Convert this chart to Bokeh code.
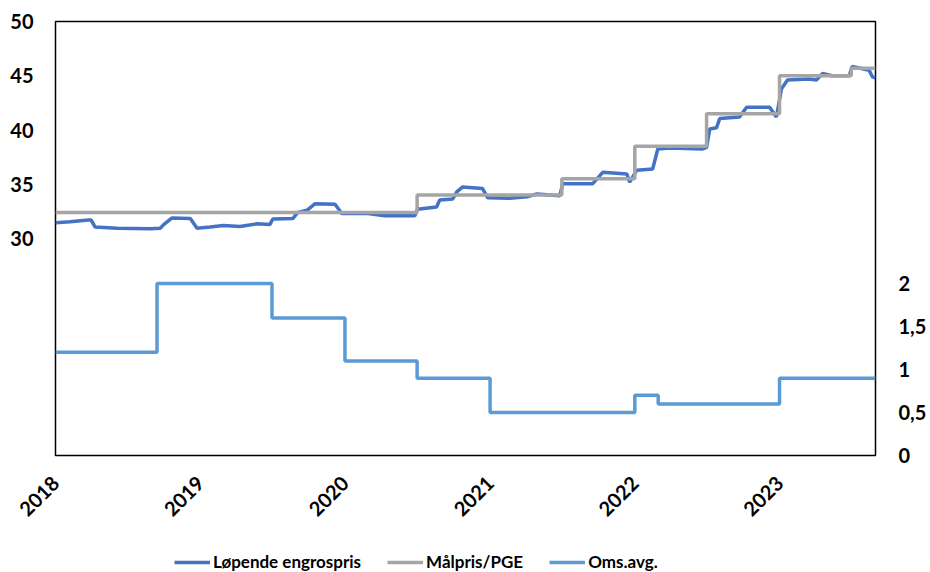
import datetime as dt
from bokeh.plotting import figure
from bokeh.layouts import column
from bokeh.models import (Range1d, LinearAxis, FixedTicker, DatetimeTickFormatter,
                          Legend, LegendItem, CustomJSTickFormatter)
from bokeh.embed import file_html
from bokeh.resources import INLINE

# ---- data ----
engros_dates = ["2018-01-01", "2018-02-07", "2018-03-25", "2018-04-01", "2018-04-11", "2018-06-06",
                "2018-08-28", "2018-09-22", "2018-09-30", "2018-10-22", "2018-12-07", "2018-12-24",
                "2019-01-26", "2019-02-28", "2019-04-11", "2019-05-24", "2019-06-26", "2019-07-03",
                "2019-08-23", "2019-09-04", "2019-09-27", "2019-10-17", "2019-12-07", "2019-12-24",
                "2020-02-28", "2020-04-10", "2020-06-25", "2020-07-02", "2020-08-19", "2020-08-27",
                "2020-09-29", "2020-10-09", "2020-10-24", "2020-12-13", "2020-12-26", "2021-02-20",
                "2021-04-04", "2021-04-29", "2021-06-26", "2021-07-03", "2021-09-17", "2021-10-12",
                "2021-12-12", "2021-12-19", "2022-01-06", "2022-02-15", "2022-02-28", "2022-03-30",
                "2022-06-21", "2022-07-01", "2022-07-09", "2022-07-26", "2022-08-03", "2022-09-22",
                "2022-10-10", "2022-12-07", "2022-12-24", "2023-01-06", "2023-01-21", "2023-03-17",
                "2023-04-04", "2023-04-19", "2023-05-14", "2023-06-26", "2023-07-03", "2023-08-15",
                "2023-08-23", "2023-08-31"]
engros_values = [31.45, 31.55, 31.7, 31.7, 31.05, 30.95,
                 30.9, 30.95, 31.25, 31.9, 31.85, 30.95,
                 31.05, 31.2, 31.1, 31.35, 31.3, 31.8,
                 31.85, 32.4, 32.6, 33.2, 33.15, 32.3,
                 32.3, 32.1, 32.1, 32.7, 32.9, 33.55,
                 33.65, 34.3, 34.75, 34.6, 33.75, 33.7,
                 33.85, 34.1, 33.95, 35.05, 35.05, 36.1,
                 35.95, 35.2, 36.3, 36.4, 38.25, 38.35,
                 38.25, 38.4, 40.1, 40.2, 41.05, 41.2,
                 42.1, 42.1, 41.2, 43.8, 44.6, 44.7,
                 44.6, 45.2, 45.0, 45.0, 45.85, 45.5,
                 44.9, 44.8]

maal_dates = ["2018-01-01", "2020-07-01", "2021-07-01", "2022-01-01", "2022-07-01",
              "2023-01-01", "2023-07-01", "2023-08-31"]
maal_values = [32.4, 34.0, 35.5, 38.5, 41.5, 45.0, 45.7, 45.7]

oms_dates = ["2018-01-01", "2018-09-14", "2019-07-01", "2020-01-01", "2020-07-01",
             "2021-01-01", "2022-01-01", "2022-03-01", "2023-01-01", "2023-08-31"]
oms_values = [1.2, 2.0, 1.6, 1.1, 0.9, 0.5, 0.7, 0.6, 0.9, 0.9]

year_ticks = ["2018-01-01", "2019-01-01", "2020-01-01", "2021-01-01", "2022-01-01", "2023-01-01"]
left_ticks = [30, 35, 40, 45, 50]
right_ticks = [0, 0.5, 1, 1.5, 2]
series_names = ["Løpende engrospris", "Målpris/PGE", "Oms.avg."]
series_colors = ["#4472C4", "#A5A5A5", "#5B9BD5"]


def to_dt(s):
    return dt.datetime.strptime(s, "%Y-%m-%d")


def to_ms(s):
    return (to_dt(s) - dt.datetime(1970, 1, 1)).total_seconds() * 1000.0


series = [([to_dt(d) for d in engros_dates], engros_values),
          ([to_dt(d) for d in maal_dates], maal_values),
          ([to_dt(d) for d in oms_dates], oms_values)]

FONT = "Lato"
LW = 3.5
x_range = Range1d(to_dt("2018-01-01"), to_dt("2023-08-31"))

p = figure(width=930, height=540, x_axis_type="datetime", output_backend="svg",
           toolbar_location=None, x_range=x_range, y_range=Range1d(10, 50),
           min_border_left=55, min_border_right=55, min_border_top=21, min_border_bottom=85)
p.extra_y_ranges = {"right": Range1d(0, 5.05)}

p.xgrid.visible = False
p.ygrid.visible = False
p.outline_line_color = "black"
p.outline_line_width = 1.5
p.outline_line_alpha = 1.0

p.line(series[0][0], series[0][1], line_color=series_colors[0], line_width=LW)
p.step(series[1][0], series[1][1], mode="after", line_color=series_colors[1], line_width=LW)
p.step(series[2][0], series[2][1], mode="after", line_color=series_colors[2], line_width=LW,
       y_range_name="right")

# x axis
xa = p.xaxis[0]
xa.ticker = FixedTicker(ticks=[to_ms(d) for d in year_ticks])
xa.formatter = DatetimeTickFormatter(years="%Y", months="%Y", days="%Y", hours="%Y",
                                     minutes="%Y", seconds="%Y", milliseconds="%Y",
                                     microseconds="%Y", hourmin="%Y", minsec="%Y")
xa.major_label_orientation = 0.785398

# left y axis
ya = p.yaxis[0]
ya.ticker = FixedTicker(ticks=left_ticks)
ya.major_label_standoff = 22

# right y axis
ra = LinearAxis(y_range_name="right", ticker=FixedTicker(ticks=right_ticks),
                formatter=CustomJSTickFormatter(code="return tick.toString().replace('.', ',');"))
ra.major_label_standoff = 23
p.add_layout(ra, "right")

for ax in [xa, ya, ra]:
    ax.axis_line_color = None
    ax.major_tick_line_color = None
    ax.minor_tick_line_color = None
    ax.major_tick_out = 0
    ax.major_tick_in = 0
    ax.major_label_text_font = FONT
    ax.major_label_text_font_style = "bold"
    ax.major_label_text_font_size = "20px"
    ax.major_label_text_color = "black"
xa.major_label_standoff = 24

# ---- legend strip below the chart (same series, kept out of view) ----
lg = figure(width=930, height=32, output_backend="svg", toolbar_location=None,
            x_axis_type="datetime", x_range=x_range, y_range=Range1d(-2, -1),
            x_axis_location=None, y_axis_location=None, min_border=0)
lg.xgrid.visible = False
lg.ygrid.visible = False
lg.outline_line_color = None
keys = [lg.line(xs, ys, line_color=c, line_width=LW) for (xs, ys), c in zip(series, series_colors)]

legend = Legend(items=[LegendItem(label=n, renderers=[k]) for n, k in zip(series_names, keys)],
                orientation="horizontal", location=(119, 0),
                border_line_color=None, background_fill_alpha=0,
                label_text_font=FONT, label_text_font_style="bold",
                label_text_font_size="17px", label_text_color="black",
                glyph_width=36, glyph_height=18, label_standoff=3, spacing=26,
                padding=0, margin=0)
lg.add_layout(legend, "center")

layout = column(p, lg, spacing=0)
open("out.html", "w").write(file_html(layout, INLINE))
